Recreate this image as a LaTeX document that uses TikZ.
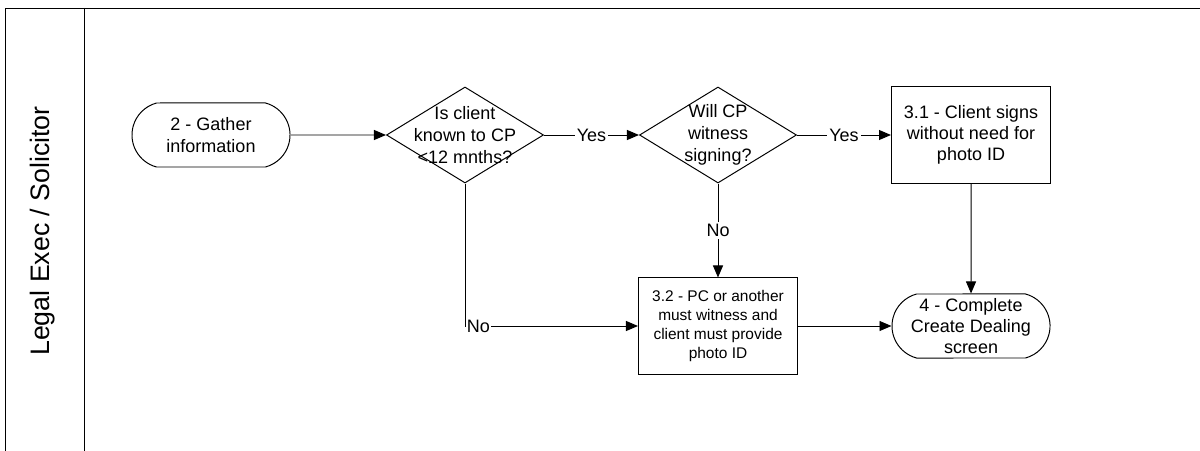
\documentclass[tikz,border=0pt]{standalone}
\usepackage{fontspec}
\setmainfont{Liberation Sans}
\usetikzlibrary{arrows.meta,shapes.geometric,shapes.misc}

\begin{document}
\begin{tikzpicture}[
  x=0.025cm,y=-0.025cm,
  >={Triangle[length=0.3cm,width=0.25cm]},
  line width=0.7pt,
  term/.style={draw,rounded rectangle,rounded rectangle arc length=150,
    minimum width=3.95cm,minimum height=1.6cm,
    inner sep=0pt,align=center,font=\fontsize{12.8}{15.2}\selectfont},
  task/.style={draw,rectangle,minimum width=3.975cm,minimum height=2.4cm,
    inner sep=0pt,align=center,font=\fontsize{12.8}{15}\selectfont},
  decide/.style={draw,diamond,minimum width=3.925cm,minimum height=2.4cm,inner sep=0pt},
  dtext/.style={align=center,font=\fontsize{12.8}{15.6}\selectfont},
  lbl/.style={fill=white,inner sep=1.5pt,font=\fontsize{12.8}{15}\selectfont}
]
  \useasboundingbox (0,0) rectangle (1200,451);

  % swimlane
  \draw (5,451) -- (5,8) -- (1200,8);
  \draw (84,8) -- (84,451);
  \node[rotate=90,font=\fontsize{19}{22}\selectfont] (lane) at (43,231) {Legal Exec / Solicitor};

  \node[term] (gather) at (211,135) {2 - Gather\\information};
  \node[decide] (known) at (465,135) {};
  \node[dtext] (knowntxt) at (465,135) {Is client\\known to CP\\<12 mnths?};
  \node[decide] (witness) at (718,135) {};
  \node[dtext] (witnesstxt) at (718,135) {Will CP\\witness\\signing?};
  \node[task] (nophoto) at (971,135) {3.1 - Client signs\\without need for\\photo ID};
  \node[task,font=\fontsize{11}{13.5}\selectfont] (photo) at (718,326)
    {3.2 - PC or another\\must witness and\\client must provide\\photo ID};
  \node[term] (complete) at (971,326) {4 - Complete\\Create Dealing\\screen};

  \draw[->] (gather) -- (known);
  \draw[->] (known) -- node[lbl] (yes1) {Yes} (witness);
  \draw[->] (witness) -- node[lbl] (yes2) {Yes} (nophoto);
  \draw[->] (witness) -- node[lbl] (no1) {No} (photo);
  \draw[->] (known) |- node[lbl,pos=0.5,anchor=west,inner sep=1pt] (no2) {No} (photo);
  \draw[->] (photo) -- (complete);
  \draw[->] (nophoto) -- (complete);
\end{tikzpicture}
\end{document}
